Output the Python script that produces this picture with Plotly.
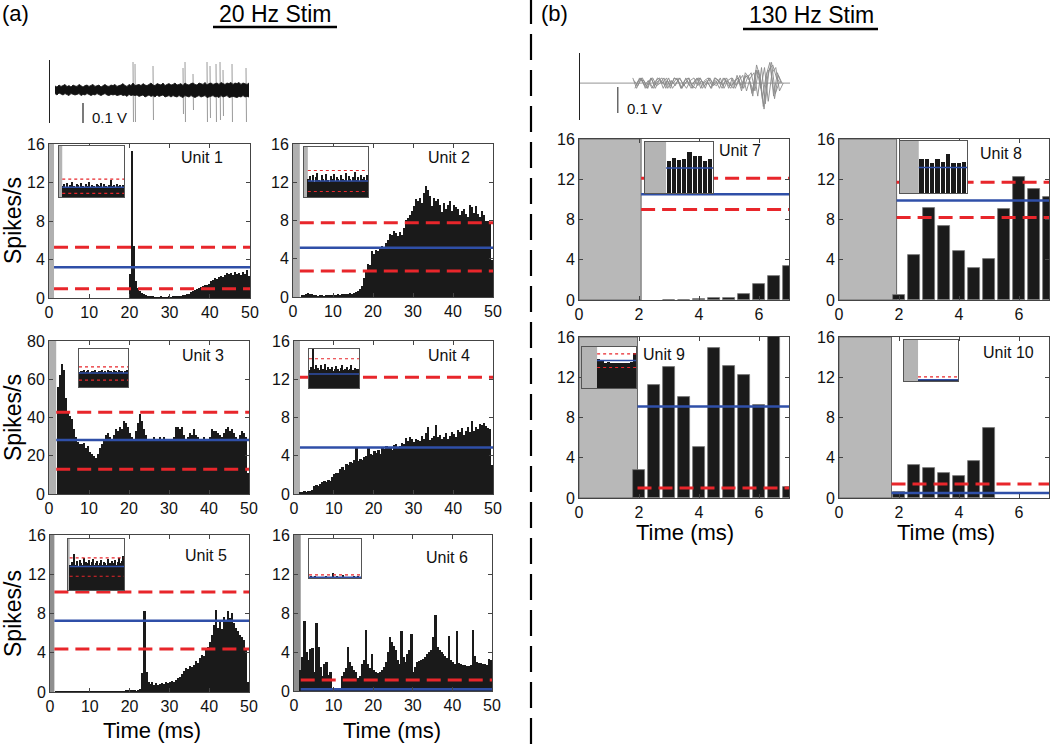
import plotly.graph_objects as go

W, H = 1050, 744
FONT = "Arial, Liberation Sans, Helvetica, sans-serif"
BLUE = "#2f4fa8"
RED = "#e8262b"
BARC = "#1a1a1a"

# ---------------- data ----------------
unit_names = ["Unit 1", "Unit 2", "Unit 3", "Unit 4", "Unit 5",
              "Unit 6", "Unit 7", "Unit 8", "Unit 9", "Unit 10"]

# 20 Hz stim units: PSTH with 0.5 ms bins; t0 = left edge of first bin (ms)
bin_w = 0.5
u1_t0 = 20.0
u1_rate = [2.5, 15.3, 5.4, 1.8, 1.0, 0.7, 0.5, 0.4, 0.3, 0.25,
           0.2, 0.15, 0.1, 0.1, 0.1, 0.15, 0.1, 0.1, 0.1, 0.15,
           0.1, 0.15, 0.2, 0.15, 0.2, 0.25, 0.3, 0.35, 0.4, 0.45,
           0.6, 0.7, 0.8, 0.9, 1.0, 1.1, 1.2, 1.3, 1.4, 1.5,
           1.8, 1.9, 2.1, 2.0, 2.2, 2.3, 2.2, 2.4, 2.6, 2.5,
           2.6, 2.4, 2.7, 2.5, 2.6, 2.4, 2.7, 2.5, 2.9, 2.3]
u2_t0 = 2.0
u2_rate = [0.2, 0.25, 0.3, 0.4, 0.35, 0.3, 0.2, 0.15, 0.1, 0.15,
           0.2, 0.1, 0.15, 0.2, 0.2, 0.25, 0.2, 0.25, 0.3, 0.25,
           0.3, 0.3, 0.35, 0.3, 0.4, 0.35, 0.4, 0.5,
           0.6, 0.8, 1.2, 2.0, 2.7, 3.4, 3.3, 4.8, 4.5, 4.9,
           4.8, 5.0, 5.3, 5.0, 5.6, 6.0, 6.6, 6.5, 6.9, 6.7,
           6.4, 6.8, 6.5, 7.2, 8.1, 8.3, 8.6, 9.0, 9.5, 10.3,
           10.0, 10.4, 9.8, 10.9, 11.6, 11.2, 10.6, 9.5, 10.4, 10.0,
           10.2, 9.6, 8.9, 9.8, 9.2, 9.6, 10.0, 9.0, 9.6, 9.4,
           9.2, 8.6, 9.0, 9.2, 8.7, 8.4, 9.6, 9.4, 8.8, 9.5,
           8.7, 8.4, 9.0, 8.6, 8.0, 7.9, 7.6, 3.9]
u3_t0 = 2.0
u3_rate = [56, 62, 68, 65, 50, 43, 41, 39, 34, 30,
           27, 26, 26, 26.5, 24, 25, 22, 21, 20, 19,
           21, 24, 26, 28, 31, 32, 30, 29, 31, 34,
           33, 35, 34, 38, 37, 35, 32, 30, 29, 33,
           37, 42, 38, 34, 31, 28, 29, 29, 30, 28,
           29, 30, 29, 30, 29, 28, 29, 28, 30, 35,
           35, 34, 35, 31, 28, 30, 32, 31, 34, 31,
           30, 28, 29, 30, 29, 28, 30, 34, 33, 33,
           32, 31, 30, 32, 34, 35, 33, 34, 32, 30,
           29, 31, 33, 32, 30, 11]
u4_t0 = 1.5
u4_rate = [0.15, 0.2, 0.3, 0.25, 0.3, 0.3, 0.4, 0.8, 0.9, 0.8,
           1.0, 1.3, 1.4, 1.3, 1.5, 1.4, 1.8, 2.1, 2.2, 2.2,
           2.6, 2.8, 2.5, 3.1, 3.0, 3.3, 3.2, 3.6, 4.8, 3.5,
           3.7, 3.6, 3.9, 4.0, 4.9, 4.2, 4.1, 4.5, 4.3, 4.6,
           4.2, 4.8, 4.7, 5.0, 4.8, 4.9, 4.6, 5.1, 5.2, 4.8,
           5.0, 5.3, 5.2, 5.9, 5.5, 6.0, 5.7, 5.4, 5.8, 5.6,
           5.5, 6.1, 5.8, 6.4, 7.0, 5.6, 5.9, 6.1, 7.2, 6.0,
           6.2, 5.8, 6.0, 6.4, 5.7, 6.1, 6.5, 6.3, 6.0, 6.7,
           6.5, 6.9, 6.2, 6.6, 7.0, 6.5, 7.6, 6.6, 7.0, 6.8,
           7.3, 7.2, 7.4, 7.1, 6.9, 6.8, 3.0]
u5_t0 = 1.5
u5_rate = [0.1, 0.1, 0.05, 0.1, 0.05, 0.1, 0.05, 0.05, 0.1, 0.05,
           0.05, 0.05, 0.1, 0.05, 0.05, 0.05, 0.05, 0.1, 0.05, 0.05,
           0.05, 0.05, 0.05, 0.05, 0.05, 0.05, 0.05, 0.05, 0.05, 0.05,
           0.05, 0.05, 0.05, 0.05, 0.1, 0.15, 0.2, 0.25, 0.2, 0.15,
           0.1,
           0.2, 0.3, 1.9, 8.3, 2.0, 1.0, 0.8, 1.0, 0.7, 0.9,
           0.7, 0.8, 0.9, 0.8, 1.0, 0.9, 1.0, 1.1, 1.0, 1.2,
           1.4, 1.5, 1.8, 2.1, 2.4, 2.3, 2.6, 2.5, 2.8, 3.2,
           3.0, 3.5, 3.8, 3.7, 4.3, 4.6, 5.1, 5.8, 6.8, 8.4,
           6.5, 7.2, 6.4, 7.6, 7.3, 8.3, 7.5, 8.1, 7.0, 6.5,
           6.2, 5.8, 5.6, 5.3, 4.5, 1.0]
u6_t0 = 1.5
u6_rate = [2.2, 3.5, 7.2, 4.0, 3.2, 4.3, 4.4, 2.0, 7.0, 4.5,
           2.5, 1.5, 2.8, 3.0, 1.6, 2.0, 0.3, 0.1, 0.2, 0.3,
           0.3, 1.5, 2.0, 2.4, 4.5, 3.0, 2.6, 2.2, 2.0, 1.3,
           1.5, 2.8, 3.2, 6.3, 2.8, 2.4, 3.8, 2.2, 2.0, 1.8,
           1.9, 2.2, 2.5, 3.0, 4.0, 5.5, 5.0, 4.6, 4.2, 3.2,
           2.8, 6.2, 3.5, 3.0, 3.8, 4.2, 5.8, 2.0, 2.5, 3.0,
           3.1, 3.2, 3.3, 3.5, 3.8, 4.0, 4.2, 5.5, 7.8, 4.5,
           4.2, 4.0, 3.8, 3.6, 3.4, 5.6, 3.2, 3.0, 2.8, 6.2,
           2.9, 2.8, 2.7, 2.7, 2.6, 2.6, 2.7, 6.3, 3.6, 3.0,
           2.9, 2.9, 2.8, 2.8, 2.7, 3.3, 3.2]

# 130 Hz stim units: bar centres (ms) and rates
u7_t = [3.0, 3.5, 4.0, 4.5, 5.0, 5.5, 6.0, 6.5, 7.0]
u7_rate = [0.05, 0.0, 0.1, 0.15, 0.2, 0.6, 1.55, 2.4, 3.4]
u8_t = [2.0, 2.5, 3.0, 3.5, 4.0, 4.5, 5.0, 5.5, 6.0, 6.5, 7.0]
u8_rate = [0.5, 4.5, 9.1, 7.4, 4.9, 3.2, 4.1, 9.0, 12.2, 11.0, 10.2]
u9_t = [2.0, 2.5, 3.0, 3.5, 4.0, 4.5, 5.0, 5.5, 6.0, 6.5, 7.0]
u9_rate = [2.8, 11.2, 13.0, 10.0, 5.1, 14.9, 13.1, 12.2, 9.2, 16.5, 1.1]
u10_t = [2.0, 2.5, 3.0, 3.5, 4.0, 4.5, 5.0]
u10_rate = [0.6, 3.3, 3.0, 2.5, 2.2, 3.7, 7.0]

# baseline mean (blue) and thresholds (red dashed), spikes/s
unit_mean = [3.2, 5.15, 28.2, 4.85, 7.27, 0.17, 10.5, 9.9, 9.1, 0.5]
unit_thr_hi = [5.27, 7.77, 42.7, 12.2, 10.2, 1.13, 12.1, 11.7, None, 1.4]
unit_thr_lo = [0.97, 2.72, 13.0, None, 4.38, None, 9.0, 8.2, 1.0, None]
# stimulus-artifact blanking (grey) end time, ms
stim_end = [1.25, 1.7, 1.8, 1.5, 1.1, 1.7, 2.07, 1.92, 1.95, 1.75]

# insets (normalised)
ins_vals = [
    [0.22, 0.25, 0.2, 0.28, 0.18, 0.24, 0.3, 0.21, 0.19, 0.26, 0.23, 0.2, 0.27, 0.22, 0.18, 0.25, 0.21, 0.29, 0.2, 0.24,
     0.22, 0.19, 0.26, 0.23, 0.21, 0.28, 0.2, 0.25, 0.22, 0.19, 0.24, 0.33, 0.21, 0.23, 0.2, 0.26, 0.22, 0.24, 0.2, 0.23],
    [0.36, 0.42, 0.33, 0.45, 0.31, 0.4, 0.48, 0.34, 0.32, 0.44, 0.37, 0.33, 0.46, 0.35, 0.31, 0.43, 0.36, 0.47, 0.33, 0.41,
     0.36, 0.32, 0.45, 0.37, 0.34, 0.48, 0.33, 0.42, 0.36, 0.32, 0.41, 0.5, 0.35, 0.4, 0.33, 0.45, 0.36, 0.41, 0.34, 0.44],
    [0.4, 0.43, 0.38, 0.42, 0.44, 0.39, 0.41, 0.45, 0.38, 0.4, 0.43, 0.39, 0.42, 0.44, 0.4, 0.38, 0.43, 0.41, 0.45, 0.39,
     0.4, 0.42, 0.38, 0.44, 0.41, 0.39, 0.43, 0.4, 0.45, 0.38, 0.42, 0.4, 0.44, 0.39, 0.41, 0.43, 0.38, 0.42, 0.4, 0.44],
    [0.45, 0.55, 0.48, 1.0, 0.5, 0.6, 0.42, 0.52, 0.47, 0.58, 0.44, 0.5, 0.62, 0.46, 0.4, 0.55, 0.49, 0.45, 0.53, 0.43,
     0.5, 0.57, 0.46, 0.48, 0.44, 0.52, 0.6, 0.45, 0.49, 0.42, 0.55, 0.47, 0.5, 0.58, 0.44, 0.46, 0.52, 0.48, 0.45, 0.5],
    [0.5, 0.55, 0.52, 0.7, 0.5, 0.56, 0.48, 0.58, 0.52, 0.5, 0.62, 0.5, 0.54, 0.52, 0.58, 0.5, 0.55, 0.6, 0.5, 0.53,
     0.56, 0.5, 0.52, 0.58, 0.5, 0.55, 0.52, 0.5, 0.6, 0.53, 0.5, 0.56, 0.52, 0.58, 0.5, 0.54, 0.62, 0.52, 0.56, 0.66],
    [0.0, 0.03, 0.0, 0.0, 0.06, 0.0, 0.0, 0.0, 0.0, 0.0, 0.0, 0.0, 0.0, 0.05, 0.0, 0.0, 0.0, 0.0, 0.14, 0.0,
     0.0, 0.04, 0.0, 0.0, 0.0, 0.0, 0.08, 0.0, 0.0, 0.0, 0.0, 0.0, 0.0, 0.0, 0.06, 0.0, 0.0, 0.03, 0.0, 0.0],
    [0.62, 0.69, 0.65, 0.67, 0.8, 0.72, 0.72, 0.63, 0.67],
    [0.65, 0.66, 0.58, 0.66, 0.6, 0.75, 0.57, 0.58, 0.6],
    [0.7, 0.65, 0.62, 0.63, 0.6, 0.62, 0.61, 0.6, 0.62, 0.6, 0.63, 0.85],
    [0.02, 0.03, 0.02, 0.04, 0.03, 0.06, 0.03, 0.05, 0.04, 0.03, 0.05, 0.04],
]
ins_mean = [0.19, 0.32, 0.37, 0.36, 0.46, 0.02, 0.49, 0.49, 0.67, 0.03]
ins_hi = [0.35, 0.53, 0.53, 0.75, 0.63, 0.08, None, None, 0.83, 0.1]
ins_lo = [0.07, 0.11, 0.18, None, 0.27, None, None, None, 0.5, None]
ins_grey = [0.05, 0.06, 0.0, 0.0, 0.03, 0.0, 0.31, 0.28, 0.28, 0.26]
ins_barfrac = [1, 1, 1, 1, 1, 1, 0.8, 0.8, 1, 1]

# example raw traces (V): envelope of overlaid sweeps at 0.5 ms steps
env_hi = [0.02, 0.015, 0.025, 0.018, 0.022, 0.028, 0.017, 0.022, 0.015, 0.025, 0.02, 0.018, 0.028, 0.02, 0.015, 0.022, 0.025, 0.018, 0.022, 0.028,
          0.018, 0.022, 0.025, 0.015, 0.022, 0.028, 0.02, 0.018, 0.025, 0.022, 0.028, 0.018, 0.022, 0.025, 0.032, 0.022, 0.018, 0.028, 0.022, 0.035,
          0.022, 0.025, 0.028, 0.022, 0.032, 0.025, 0.022, 0.028, 0.035, 0.025, 0.022, 0.032, 0.028, 0.025, 0.035, 0.022, 0.028, 0.032, 0.025, 0.028,
          0.035, 0.025, 0.028, 0.032, 0.022, 0.035, 0.028, 0.025, 0.032, 0.035, 0.028, 0.025, 0.035, 0.032, 0.028, 0.038, 0.025, 0.032, 0.035, 0.028,
          0.032, 0.035, 0.028, 0.038, 0.032, 0.028, 0.035, 0.032, 0.038, 0.028, 0.035, 0.032, 0.038, 0.028, 0.035, 0.032, 0.028, 0.035]
env_lo = [-0.018, -0.025, -0.015, -0.022, -0.025, -0.018, -0.022, -0.028, -0.018, -0.022, -0.025, -0.022, -0.018, -0.028, -0.022, -0.025, -0.018, -0.022, -0.028, -0.022,
          -0.025, -0.018, -0.022, -0.028, -0.022, -0.018, -0.025, -0.028, -0.022, -0.025, -0.022, -0.028, -0.025, -0.022, -0.028, -0.025, -0.032, -0.022, -0.028, -0.025,
          -0.028, -0.025, -0.032, -0.028, -0.025, -0.035, -0.028, -0.025, -0.032, -0.028, -0.035, -0.025, -0.032, -0.028, -0.025, -0.035, -0.032, -0.028, -0.035, -0.028,
          -0.032, -0.035, -0.028, -0.032, -0.038, -0.028, -0.032, -0.035, -0.028, -0.032, -0.038, -0.032, -0.028, -0.035, -0.032, -0.028, -0.038, -0.035, -0.032, -0.028,
          -0.035, -0.032, -0.038, -0.028, -0.035, -0.032, -0.028, -0.038, -0.035, -0.032, -0.035, -0.038, -0.032, -0.035, -0.028, -0.035, -0.032, -0.035]
env_t0, env_dt = 1.25, 0.5
spike_t = [20.75, 21.25, 25.75, 33.25, 33.75, 35.75, 39.25, 40.0, 41.5, 42.5, 43.25, 45.5, 49.0]
spike_up = [0.14, 0.13, 0.12, 0.11, 0.14, 0.08, 0.14, 0.12, 0.13, 0.14, 0.10, 0.13, 0.11]
spike_dn = [-0.16, -0.16, -0.15, -0.12, -0.16, -0.10, -0.16, -0.14, -0.16, -0.15, -0.13, -0.16, -0.16]
trace_b = [
    [0.01, -0.01, 0.02, -0.02, 0.01, 0.02, -0.01, 0.0, 0.02, -0.02, 0.01, -0.01, 0.02, 0.0, -0.02, 0.01, 0.02, -0.01, 0.01, -0.02,
     0.02, 0.0, -0.01, 0.02, -0.02, 0.01, 0.02, -0.02, 0.01, 0.03, -0.03, 0.02, 0.04, -0.05, 0.06, -0.08, 0.05, 0.07, 0.02, 0.0],
    [-0.01, 0.02, 0.0, -0.02, 0.02, -0.01, 0.01, 0.02, -0.02, 0.01, 0.0, 0.02, -0.02, 0.01, 0.02, -0.01, -0.02, 0.02, 0.0, 0.01,
     -0.02, 0.02, 0.01, -0.02, 0.01, 0.0, -0.02, 0.03, -0.01, 0.02, 0.03, -0.04, 0.05, 0.03, -0.09, 0.04, 0.06, -0.06, 0.03, 0.0],
    [0.02, -0.02, 0.01, 0.01, -0.02, 0.02, -0.02, 0.01, 0.0, 0.02, -0.02, 0.02, 0.01, -0.02, 0.0, 0.02, -0.02, 0.01, 0.02, -0.01,
     0.0, -0.02, 0.02, 0.01, -0.01, 0.02, -0.01, 0.0, 0.02, -0.03, 0.04, 0.02, -0.05, 0.07, 0.02, -0.1, 0.03, 0.08, -0.04, 0.0],
    [0.0, 0.02, -0.01, 0.01, -0.02, 0.01, 0.02, -0.02, 0.01, -0.01, 0.02, 0.01, -0.02, 0.02, -0.01, 0.0, 0.02, -0.02, 0.01, 0.02,
     -0.01, 0.01, -0.02, 0.02, 0.0, -0.02, 0.01, 0.02, -0.02, 0.03, 0.01, -0.03, 0.05, -0.02, 0.06, -0.07, 0.04, 0.06, -0.03, 0.0],
    [-0.02, 0.01, 0.02, -0.01, 0.0, -0.02, 0.02, 0.01, -0.01, 0.02, -0.02, 0.0, 0.02, -0.01, 0.01, -0.02, 0.01, 0.02, -0.02, 0.0,
     0.02, -0.01, 0.01, 0.0, 0.02, -0.02, 0.02, -0.01, 0.03, -0.02, 0.02, 0.04, -0.03, 0.05, -0.06, 0.03, 0.08, -0.05, 0.04, 0.0],
]
trace_b_t0 = [1.8, 1.86, 1.76, 1.9, 1.83]
trace_b_dt = 0.125
scale_a = dict(x=8.25, y0=-0.065, y1=-0.165, tx=10.0, ty=-0.135)
scale_b = dict(x=1.26, y0=-0.0154, y1=-0.115, tx=1.5, ty=-0.096)

# ---------------- layout geometry (pixels) ----------------
main_box = [(49, 250, 144, 298), (293, 493, 144, 297), (49, 249, 341, 494), (294, 493, 341, 494),
            (50, 249, 535, 692), (294, 492, 535, 691), (579, 789, 139, 300), (839, 1049, 139, 300),
            (579, 789, 337, 498), (839, 1049, 337, 498)]
inset_box = [(59, 124, 146, 197), (304, 368, 147, 197), (79, 128, 349, 387), (309, 359, 349, 388),
             (68, 124, 539, 590), (309, 361, 539, 578), (645, 713, 142, 193), (900, 967, 141, 193),
             (582, 636, 347, 388), (904, 958, 340, 381)]
label_pos = [(202, 157), (449, 157), (203, 355), (449, 355), (206, 555), (447, 557),
             (740, 151), (1001, 153), (664, 354), (1008, 352)]


def dx(x0, x1):
    return [x0 / W, x1 / W]


def dy(y0, y1):
    return [1 - y1 / H, 1 - y0 / H]


fig = go.Figure()
layout = {}
shapes = []
annotations = []

for i in range(10):
    n = i + 1
    ax = "" if n == 1 else str(n)
    xr, yr = "x" + ax, "y" + ax
    x0, x1, y0, y1 = main_box[i]
    left = i < 6
    xmax = 50 if left else 7
    ymax = 80 if i == 2 else 16
    ytick = [0, 20, 40, 60, 80] if i == 2 else [0, 4, 8, 12, 16]
    xtick = [0, 10, 20, 30, 40, 50] if left else [0, 2, 4, 6]
    common = dict(showline=True, linecolor="#444", linewidth=1, mirror="ticks", ticks="inside",
                  ticklen=4, tickcolor="#444", showgrid=False, zeroline=False, automargin=False,
                  tickfont=dict(size=16, family=FONT, color="#111"))
    layout["xaxis" + ax] = dict(domain=dx(x0, x1), range=[0, xmax], tickvals=xtick, anchor=yr, **common)
    layout["yaxis" + ax] = dict(domain=dy(y0, y1), range=[0, ymax], tickvals=ytick, anchor=xr, **common)

    grey = "#8f8f8f" if i in (4, 5) else ("#b0b0b0" if left else "#b8b8b8")
    shapes.append(dict(type="rect", xref=xr, yref=yr, x0=0, x1=stim_end[i], y0=0, y1=ymax,
                       fillcolor=grey, line=dict(width=1 if not left else 0, color="#666"), layer="below"))

    if left:
        rates = [u1_rate, u2_rate, u3_rate, u4_rate, u5_rate, u6_rate][i]
        t0 = [u1_t0, u2_t0, u3_t0, u4_t0, u5_t0, u6_t0][i]
        xs = [t0 + bin_w / 2 + bin_w * k for k in range(len(rates))]
        fig.add_trace(go.Bar(x=xs, y=rates, width=bin_w, marker=dict(color=BARC, line=dict(width=0)),
                             xaxis=xr, yaxis=yr))
    else:
        ts = [u7_t, u8_t, u9_t, u10_t][i - 6]
        rates = [u7_rate, u8_rate, u9_rate, u10_rate][i - 6]
        fig.add_trace(go.Bar(x=ts, y=rates, width=0.42, marker=dict(color=BARC, line=dict(width=0.8, color="#777")),
                             xaxis=xr, yaxis=yr))

    for val in (unit_thr_hi[i], unit_thr_lo[i]):
        if val is not None:
            fig.add_trace(go.Scatter(x=[stim_end[i], xmax], y=[val, val], mode="lines",
                                     line=dict(color=RED, width=3, dash="14px,7px"), xaxis=xr, yaxis=yr))
    fig.add_trace(go.Scatter(x=[stim_end[i], xmax], y=[unit_mean[i], unit_mean[i]], mode="lines",
                             line=dict(color=BLUE, width=2.5), xaxis=xr, yaxis=yr))

    lx, ly = label_pos[i]
    annotations.append(dict(text=unit_names[i], x=lx / W, y=1 - ly / H, xref="paper", yref="paper",
                            xanchor="center", yanchor="middle",
                            showarrow=False, font=dict(size=16, family=FONT, color="#111")))

# insets
for i in range(10):
    n = 11 + i
    xr, yr = "x%d" % n, "y%d" % n
    x0, x1, y0, y1 = inset_box[i]
    ins = dict(showline=True, linecolor="#555", linewidth=1, mirror=True, ticks="", showticklabels=False,
               showgrid=False, zeroline=False, range=[0, 1], automargin=False)
    layout["xaxis%d" % n] = dict(domain=dx(x0, x1), anchor=yr, **ins)
    layout["yaxis%d" % n] = dict(domain=dy(y0, y1), anchor=xr, **ins)
    g = ins_grey[i]
    if g > 0:
        shapes.append(dict(type="rect", xref=xr, yref=yr, x0=0, x1=g, y0=0, y1=1,
                           fillcolor="#b4b4b4", line=dict(width=0), layer="below"))
    vals = ins_vals[i]
    bw = (1 - g) / len(vals)
    xs = [g + bw / 2 + bw * k for k in range(len(vals))]
    fig.add_trace(go.Bar(x=xs, y=vals, width=bw * ins_barfrac[i],
                         marker=dict(color=BARC, line=dict(width=0)), xaxis=xr, yaxis=yr))
    for val in (ins_hi[i], ins_lo[i]):
        if val is not None:
            fig.add_trace(go.Scatter(x=[g, 1], y=[val, val], mode="lines",
                                     line=dict(color=RED, width=1.2, dash="dot"), xaxis=xr, yaxis=yr))
    fig.add_trace(go.Scatter(x=[g, 1], y=[ins_mean[i], ins_mean[i]], mode="lines",
                             line=dict(color=BLUE, width=1.5), xaxis=xr, yaxis=yr))

# raw trace (a)
layout["xaxis21"] = dict(domain=dx(50, 250), range=[0, 50], visible=False, anchor="y21", automargin=False)
layout["yaxis21"] = dict(domain=dy(60, 123), range=[-0.165, 0.15], showline=True, linecolor="#222",
                         linewidth=1.2, ticks="", showticklabels=False, showgrid=False, zeroline=False,
                         anchor="x21", automargin=False)
sx, sy = [], []
for t, up, dn in zip(spike_t, spike_up, spike_dn):
    sx += [t, t + 0.12, None]
    sy += [up, dn, None]
fig.add_trace(go.Scatter(x=sx, y=sy, mode="lines", line=dict(color="#9a9a9a", width=1),
                         xaxis="x21", yaxis="y21"))
env_x = [env_t0 + env_dt * k for k in range(len(env_hi))]
fig.add_trace(go.Scatter(x=env_x, y=env_lo, mode="lines", line=dict(color="#111", width=0.8),
                         xaxis="x21", yaxis="y21"))
fig.add_trace(go.Scatter(x=env_x, y=env_hi, mode="lines", line=dict(color="#111", width=0.8),
                         fill="tonexty", fillcolor="#111", xaxis="x21", yaxis="y21"))
fig.add_trace(go.Scatter(x=[scale_a["x"], scale_a["x"]], y=[scale_a["y0"], scale_a["y1"]], mode="lines",
                         line=dict(color="#222", width=1.2), xaxis="x21", yaxis="y21"))
annotations.append(dict(text="0.1 V", x=scale_a["tx"], y=scale_a["ty"], xref="x21", yref="y21",
                        xanchor="left", yanchor="middle", showarrow=False,
                        font=dict(size=15, family=FONT, color="#111")))

# raw trace (b)
layout["xaxis22"] = dict(domain=dx(580, 790), range=[0, 7], visible=False, anchor="y22", automargin=False)
layout["yaxis22"] = dict(domain=dy(53, 120), range=[-0.142, 0.116], showline=True, linecolor="#222",
                         linewidth=1.2, ticks="", showticklabels=False, showgrid=False, zeroline=False,
                         anchor="x22", automargin=False)
fig.add_trace(go.Scatter(x=[0, 7], y=[0, 0], mode="lines", line=dict(color="#aaa", width=1.2),
                         xaxis="x22", yaxis="y22"))
for tr, tb in zip(trace_b, trace_b_t0):
    fig.add_trace(go.Scatter(x=[tb + trace_b_dt * k for k in range(len(tr))], y=tr, mode="lines",
                             line=dict(color="#8a8a8a", width=0.9), xaxis="x22", yaxis="y22"))
fig.add_trace(go.Scatter(x=[scale_b["x"], scale_b["x"]], y=[scale_b["y0"], scale_b["y1"]], mode="lines",
                         line=dict(color="#444", width=1.2), xaxis="x22", yaxis="y22"))
annotations.append(dict(text="0.1 V", x=scale_b["tx"], y=scale_b["ty"], xref="x22", yref="y22",
                        xanchor="left", yanchor="middle", showarrow=False,
                        font=dict(size=15, family=FONT, color="#111")))


def pann(text, px, py, size, xanchor="center", **kw):
    return dict(text=text, x=px / W, y=1 - py / H, xref="paper", yref="paper", showarrow=False,
                xanchor=xanchor, yanchor="middle",
                font=dict(size=size, family=FONT, color="black"), **kw)


annotations += [
    pann("(a)", 0, 14, 22, xanchor="left"),
    pann("20 Hz Stim", 275, 14, 23),
    pann("(b)", 539, 14, 22, xanchor="left"),
    pann("130 Hz Stim", 811, 15, 23),
    pann("Spikes/s", 13, 221, 23, textangle=-90),
    pann("Spikes/s", 13, 418, 23, textangle=-90),
    pann("Spikes/s", 13, 614, 23, textangle=-90),
    pann("Time (ms)", 152, 730, 22),
    pann("Time (ms)", 392, 730, 22),
    pann("Time (ms)", 685, 532, 22),
    pann("Time (ms)", 946, 532, 22),
]

shapes += [
    dict(type="line", xref="paper", yref="paper", x0=531 / W, x1=531 / W, y0=0, y1=1,
         line=dict(color="black", width=2.2, dash="26px,10px")),
    dict(type="line", xref="paper", yref="paper", x0=213 / W, x1=337 / W, y0=1 - 27 / H, y1=1 - 27 / H,
         line=dict(color="black", width=2.5)),
    dict(type="line", xref="paper", yref="paper", x0=743 / W, x1=878 / W, y0=1 - 29 / H, y1=1 - 29 / H,
         line=dict(color="black", width=2.5)),
]

fig.update_layout(width=W, height=H, margin=dict(l=0, r=0, t=0, b=0, pad=0, autoexpand=False),
                  paper_bgcolor="white", plot_bgcolor="white", showlegend=False, bargap=0, shapes=shapes,
                  annotations=annotations, font=dict(family=FONT), **layout)
fig.write_html("out.html", config={"displayModeBar": False},
               post_script="document.body.style.margin='0px';")
